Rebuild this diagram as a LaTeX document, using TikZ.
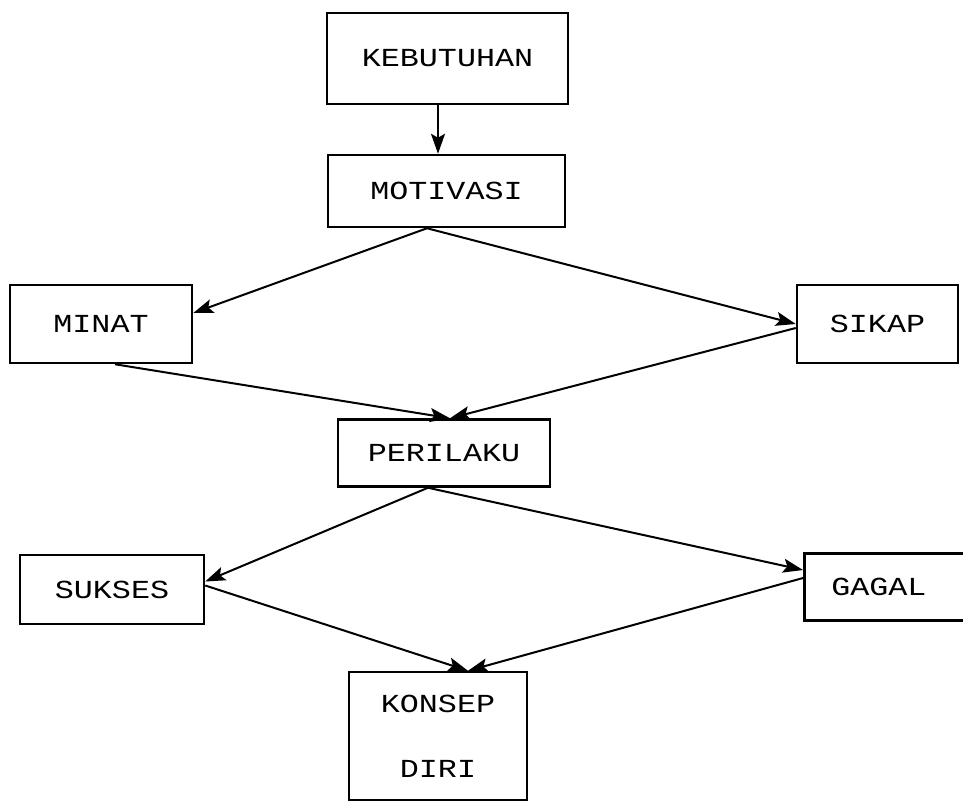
\documentclass[tikz,border=0pt]{standalone}
\usepackage{fontspec}
\setmonofont[FakeStretch=1.22]{Liberation Mono}
\usetikzlibrary{arrows.meta}
\usetikzlibrary{positioning}

\begin{document}
\begin{tikzpicture}[x=1pt,y=-1pt,>={Stealth[length=20pt,width=14pt,inset=4pt]},->,line width=2pt,
    box node/.style={rectangle,draw,line width=2.5pt,inner sep=0pt,font=\ttfamily\fontsize{26}{31}\selectfont}]
   \useasboundingbox (0,0) rectangle (963,801);
   % boxes
   \node[box node,minimum width=241pt,minimum height=91pt] (kebutuhan) at (447.5,58.5) {KEBUTUHAN};
   \node[box node,minimum width=237pt,minimum height=72pt] (motivasi) at (446.5,191) {MOTIVASI};
   \node[box node,minimum width=182pt,minimum height=78pt] (minat) at (101,324) {MINAT};
   \node[box node,minimum width=161pt,minimum height=78pt] (sikap) at (877.5,324) {SIKAP};
   \node[box node,minimum width=212pt,minimum height=67pt] (perilaku) at (444,453) {PERILAKU};
   \node[box node,minimum width=184pt,minimum height=69pt] (sukses) at (112,589.5) {SUKSES};
   \node[box node,anchor=west,minimum height=67pt,text width=150pt,inner xsep=27pt,align=left] (gagal) at (803,587) {GAGAL};
   \node[box node,minimum width=178pt,minimum height=128pt,align=center] (konsep) at (438,736) {KONSEP\\[34pt]DIRI};
   % arrows
   \draw ([xshift=-9.5pt]kebutuhan.south) -- ([xshift=-8.5pt]motivasi.north);
   \draw ([xshift=-19.5pt]motivasi.south) -- ([yshift=11pt]minat.east);
   \draw ([xshift=-19.5pt]motivasi.south) -- (sikap.west);
   \draw ([xshift=14pt]minat.south) -- ([xshift=6pt]perilaku.north);
   \draw ([yshift=-4pt]sikap.west) -- ([xshift=6pt]perilaku.north);
   \draw ([xshift=-16pt]perilaku.south) -- ([yshift=8pt]sukses.east);
   \draw ([xshift=-16pt]perilaku.south) -- ([yshift=17pt]gagal.west);
   \draw ([yshift=4pt]sukses.east) -- ([xshift=30pt]konsep.north);
   \draw ([yshift=9pt]gagal.west) -- ([xshift=30pt]konsep.north);
\end{tikzpicture}
\end{document}
